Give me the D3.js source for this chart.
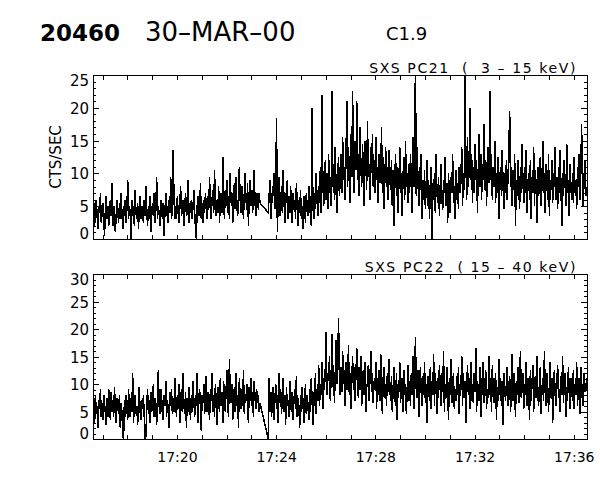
<!DOCTYPE html>
<html><head><meta charset="utf-8">
<script src="https://cdn.jsdelivr.net/npm/d3@7"></script>
<style>
html,body{margin:0;padding:0;background:#fff;}
svg{display:block;}
text{font-family:"DejaVu Sans",sans-serif;fill:#000;}
</style></head><body>
<script>
// ---- chart texts ----
const headerTexts = ["20460", "30\u2013MAR\u201300", "C1.9"];
const panelTitles = ["SXS PC21  (  3 \u2013 15 keV)", "SXS PC22  ( 15 \u2013 40 keV)"];
const yAxisTitle = "CTS/SEC";
const yMaxes = [25, 30];
const yMajorStep = 5;
const labelEveryMinutes = 4;

// ---- time base (2 s samples) ----
const startTime = new Date(Date.UTC(2000, 2, 30, 17, 16, 37));
const endTime = new Date(Date.UTC(2000, 2, 30, 17, 36, 32));
const sampleSeconds = 2;

// ---- SXS PC21 (3-15 keV), counts/s ----
const pc21 = [
3,5.5,2,4.5,6,3.5,1.5,5,4,7,2.5,4,5.5,3,0.5,4.5,6.5,3,5,2,
4,6,3.5,8.5,2,5,4.5,1,3.5,6,4,2.5,5.5,3,7,4,1.5,5,3.5,6,
2.5,4.5,9,3,5,4,0,6,3.5,5,2,7.5,4,3,5.5,1.5,4.5,6.5,3,5,
4,2.5,6,3.5,8,4.5,2,5,3,6.5,1,4,5.5,3.5,7,2.5,4.5,9.5,3,5,
4,2,6,4.5,3,5.5,0.5,4,7,3.5,5,2.5,6,4,9.5,3,5,13.5,6,3,
5,3,6.5,4,2.5,5.5,8,3.5,4.5,6,2,5,7,3.5,4,9,2.5,5.5,4,6,
3,5,7.5,4,1.5,0,5,6.5,3.5,4.5,8.5,3,5.5,2.5,6,4,7,5,3,6.5,
4.5,9.5,5,3,6,7.5,4,10.5,5.5,3.5,6,4,8,2.5,5.5,7,4,12.5,6,3,
7.5,5,9,4,6.5,3,10,5.5,7,2.5,6,8.5,4.5,9.5,5,3.5,7,11,6,4,
8,5.5,3,7,10,6,4.5,8.5,2,6.5,9,5,7.5,4,6,10.5,5.5,3.5,7,6,
4.5,7,5.5,null,null,null,null,null,null,null,null,null,4,6.5,9,3,7,5.5,8,10,
4.5,7.5,18.5,1,6,9.5,3.5,5,8,4,10.5,6,2.5,7,5.5,9,3,6.5,4,8,
5,2.5,7,4.5,6,3,8.5,5.5,2,6,4,7.5,3,5,1.5,6.5,4.5,2.5,7,5,
3.5,8,4,6.5,2,20,5,3,7,4.5,10,6,3.5,8,5.5,11,4,22,9,5,
8,12,6,10,4.5,13,7,9.5,5,22.5,8,11.5,6,14,7.5,4,10,12.5,6.5,9,
13,7,15.5,9,11,6,12.5,21,8,14,10,5.5,16,9.5,22.5,12,7,15,10.5,21,
9,13,6.5,17,11,8,14.5,10,5,15,12,7.5,18,9.5,11.5,6,14,10,16,8,
12,7,15.5,9,11,5.5,13,8.5,10,17,7,12.5,4.5,9,14,8,11,6,13.5,9,
7.5,12,5,10.5,2,9,13,6.5,11,4,8.5,14,7,10,3.5,9.5,12.5,6,15,8,
10,5.5,11.5,7,13,9,4,15.5,8,12,27,6.5,14,9.5,5,11,7.5,13,3,9,
6,10.5,4.5,8,12,5,9,3,7.5,11,0,8.5,6,10,4,13,7,5.5,9.5,3.5,
8,11.5,6,4.5,9,7,12.5,5,8.5,2.5,10,6.5,4,9.5,7,13,5.5,8,3,10.5,
6,8.5,4.5,11,7,9.5,14,5,10,7.5,27,12,6,15.5,8,10.5,20,9,13,5.5,
11,7,14.5,9,12,4,10.5,16,8,13,6,11.5,9,17.5,7.5,12,5,10,14,8.5,
22.5,9,13,6,11,8,15,5.5,10,7,12.5,3,9,11,6.5,13.5,8,4.5,10,7,
12,6,9.5,14,19.5,8,11,5,10.5,7.5,13,2,9,6.5,12,8,4.5,11,7,14.5,
9,5.5,11,7,13.5,4,8.5,10,6,12,3,9.5,7,14,5,10.5,8,2.5,11,6.5,
9,12.5,5,8,15,7,10,4,11.5,8.5,6,13,3.5,9,7.5,12,5.5,10,8,14,
6,9.5,4.5,11,7,13.5,8,2,10,6.5,12,8.5,5,14.5,7,9,3.5,11.5,8,6,
10,5.5,12.5,7,9,4.5,11,8,13,6,10.5,17.5,7.5,5,9.5,12,6.5,8
];

// ---- SXS PC22 (15-40 keV), counts/s ----
const pc22 = [
5,7.5,3,8,4.5,6,2,7,5.5,9,4,6.5,3.5,8,5,6,2.5,7.5,4,9,
6,3.5,8.5,5,7,4,9.5,5.5,3,7.5,6,4.5,8,2,6.5,5,0.5,0,7,4,
8,5.5,3.5,9,6,4,7.5,5,12,3,6.5,8,4.5,6,2.5,7,9.5,5,3.5,7,
5.5,8,4,0,0.5,6,9,4.5,7,3,8.5,5,6.5,10,4,7.5,5.5,2.5,8,12.5,
6,4.5,9,5,7,3.5,8,6,10.5,4,7,5.5,2,8.5,6,9,4.5,7.5,5,11,
6.5,4,8,5.5,10,3,7,9,5,12,6,4.5,8.5,2,7.5,5,9.5,6,3.5,8,
5,10.5,7,4,8,6,12,3,7.5,9,5.5,1.5,8,6.5,10,4.5,7,11.5,5,8.5,
6,3.5,9,7,12,5,8,4,10,6.5,2.5,9.5,7,5,11,6,8.5,3,10.5,7.5,
5,9,12.5,6,4,14.5,8,6.5,10,3.5,7,9.5,5,12,6,8,2,11,7.5,5.5,
9,6,12.5,4.5,8,7,10,5,3,9.5,7,11,6,8.5,4,10.5,7.5,5.5,9,6.5,
8,5,6.5,null,null,null,null,null,null,null,null,null,0,11,5,8.5,4,7,9.5,3.5,
7,10,5.5,8,3,12,6.5,9,4.5,7.5,11,5,8,2.5,9.5,6,7,4,10.5,6.5,
5,8.5,3.5,7,9,5.5,11.5,4,7.5,6,2,8,5,9.5,6.5,3,7,10,4.5,8,
6,3.5,9,5,11,7,2.5,8.5,6,12,4.5,9,7,13.5,6,10,8,14,5.5,11,
9,13,19.5,8,12,10.5,15,7,11,19,9.5,13.5,6.5,12,18,10,14,22,11,8,
13,8.5,16,10,12.5,6,14,9,11,17,8,12,5.5,10.5,15,9,13,7,11.5,16.5,
10,7.5,13,9,15,6,11,12.5,8,14,5,10,9.5,13.5,7,11,16,8.5,12,6.5,
10.5,9,14,5.5,11,8,12.5,7,15.5,9.5,4.5,11,13,7.5,10,6,12,8.5,14.5,9,
7,11.5,5,9,13,8,6,12,3.5,10,8.5,14,6.5,9.5,11,5,12.5,8,10,4.5,
9,13.5,7,10.5,6,12,8,15,5.5,11,18.5,9,7.5,12.5,4,10,13,8.5,6,11.5,
8,14,6.5,10,3,11.5,9,7,13,5.5,10.5,8,15.5,6,12,9.5,4.5,11,7.5,13.5,
9,6,12,8.5,16,5,10,7.5,13,9,3.5,11,8,14.5,6.5,10,12,5.5,9,7,
11.5,8,13,4.5,10,9,15,6,12,7.5,10.5,3,9.5,13.5,8,11,5.5,14,7,10,
6.5,12,8.5,16.5,5,10.5,9,7,13,4,11,8,14,6.5,10,12.5,5.5,9,7.5,15,
8,11,5,13.5,9,6.5,10,12,3.5,9.5,7,14.5,8,11,6,10.5,2.5,12,8.5,7,
10,13,6,9.5,11.5,5,8,15.5,7,12,9,4,10.5,8,13,6.5,11,16,7.5,9,
12,5.5,10,8,14,6,11,9,3.5,12.5,7,10,13.5,5,9,11.5,7.5,15,8,6,
10.5,13,4.5,9,11,7,16,8.5,6,12,9.5,5,10,14,7.5,11,3,9,12.5,8,
6,10,13.5,7.5,9,5,11.5,8,15,6.5,10,12,4,9.5,7,13,8.5,5.5,11,9,
7,12.5,5.5,10,8,14,6,9.5,11,4.5,13,7.5,10,6,12,8.5,9,11
];

const seriesValues = [pc21, pc22];

// ---- layout (pixels) ----
const W = 600, H = 480;
const plotLeft = 93, plotRight = 587;
const panelBoxes = [{top: 75, bottom: 239}, {top: 274, bottom: 439}];

const svg = d3.select("body").append("svg").attr("width", W).attr("height", H);
svg.append("rect").attr("width", W).attr("height", H).attr("fill", "#fff");

const x = d3.scaleUtc().domain([startTime, endTime]).range([plotLeft, plotRight]);
const fmt = d3.utcFormat("%H:%M");

// header
svg.append("text").attr("x", 40).attr("y", 41).attr("font-size", 23).attr("font-weight", "bold").text(headerTexts[0]);
svg.append("text").attr("x", 145).attr("y", 41).attr("font-size", 26).text(headerTexts[1]);
svg.append("text").attr("x", 386).attr("y", 40).attr("font-size", 18).text(headerTexts[2]);

seriesValues.forEach((vals, k) => {
  const box = panelBoxes[k];
  const yMax = yMaxes[k];
  const isLast = k === seriesValues.length - 1;
  const y = d3.scaleLinear().domain([0, yMax]).range([box.bottom, box.top]);
  const g = svg.append("g");

  const cid = "clip" + k;
  svg.append("clipPath").attr("id", cid).append("rect")
    .attr("x", plotLeft).attr("y", box.top).attr("width", plotRight - plotLeft + 1).attr("height", box.bottom - box.top + 1);

  const pts = vals.map((v, i) => ({t: new Date(startTime.getTime() + i * sampleSeconds * 1000), v}))
                  .filter(d => d.v !== null);
  g.append("path").datum(pts)
    .attr("clip-path", `url(#${cid})`)
    .attr("fill", "none").attr("stroke", "#000").attr("stroke-width", 1.5)
    .attr("shape-rendering", "crispEdges")
    .attr("d", d3.line().x(d => x(d.t)).y(d => y(d.v)));

  // frame
  g.append("rect").attr("x", plotLeft + 0.5).attr("y", box.top + 0.5)
    .attr("width", plotRight - plotLeft).attr("height", box.bottom - box.top)
    .attr("fill", "none").attr("stroke", "#000").attr("shape-rendering", "crispEdges");

  const majors = d3.range(0, yMax + 1, yMajorStep);
  const minors = d3.range(0, yMax + 1).filter(v => v % yMajorStep !== 0);

  const xb = svg.append("g").attr("transform", `translate(0,${box.bottom})`)
    .call(d3.axisBottom(x).ticks(d3.utcMinute.every(1)).tickSizeInner(-4).tickSizeOuter(0).tickPadding(13)
      .tickFormat(d => (isLast && d.getUTCMinutes() % labelEveryMinutes === 0) ? fmt(d) : ""));
  const xt = svg.append("g").attr("transform", `translate(0,${box.top + 1})`)
    .call(d3.axisTop(x).ticks(d3.utcMinute.every(1)).tickSizeInner(-4).tickSizeOuter(0).tickFormat(""));
  const yl = svg.append("g").attr("transform", `translate(${plotLeft},0)`)
    .call(d3.axisLeft(y).tickValues(majors).tickSizeInner(-6).tickSizeOuter(0).tickPadding(4).tickFormat(d3.format("d")));
  const ylm = svg.append("g").attr("transform", `translate(${plotLeft},0)`)
    .call(d3.axisLeft(y).tickValues(minors).tickSizeInner(-3).tickSizeOuter(0).tickFormat(""));
  const yr = svg.append("g").attr("transform", `translate(${plotRight},0)`)
    .call(d3.axisRight(y).tickValues(majors).tickSizeInner(-6).tickSizeOuter(0).tickFormat(""));
  const yrm = svg.append("g").attr("transform", `translate(${plotRight},0)`)
    .call(d3.axisRight(y).tickValues(minors).tickSizeInner(-3).tickSizeOuter(0).tickFormat(""));

  [xb, xt, yl, ylm, yr, yrm].forEach(a => {
    a.select(".domain").remove();
    a.attr("font-family", "DejaVu Sans").attr("font-size", 14);
    a.selectAll("line").attr("shape-rendering", "crispEdges").attr("stroke", "#000");
    a.selectAll("text").attr("fill", "#000");
  });
  yl.attr("font-size", 15);
  yl.selectAll("text").attr("dy", d => d === yMax ? 10.5 : (d === 0 ? -1 : 5.5));
  xb.selectAll("text").attr("dy", 10);

  svg.append("text").attr("x", 577).attr("y", box.top - 2)
    .attr("text-anchor", "end").attr("font-size", 14).attr("letter-spacing", 1.6)
    .style("white-space", "pre").text(panelTitles[k]);

  if (k === 0) {
    svg.append("text").attr("transform", `translate(61,${(box.top + box.bottom) / 2}) rotate(-90)`)
      .attr("text-anchor", "middle").attr("font-size", 15).text(yAxisTitle);
  }
});
</script>
</body></html>
